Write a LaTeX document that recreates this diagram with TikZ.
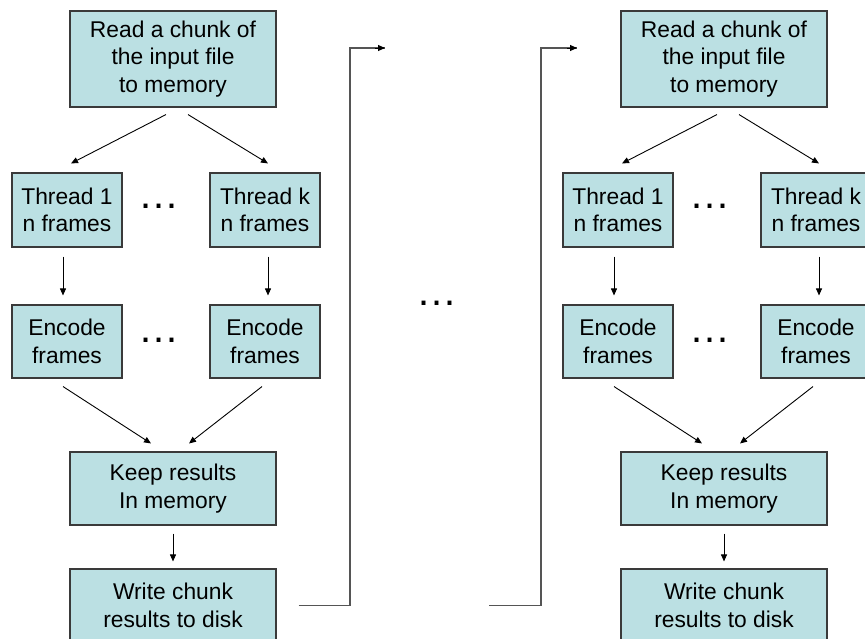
\documentclass[tikz,border=0pt]{standalone}
\usepackage{fontspec}
\setmainfont{Liberation Sans}
\usetikzlibrary{arrows.meta}
\definecolor{boxfill}{RGB}{187,224,227}
\definecolor{boxline}{RGB}{58,58,58}
\definecolor{loopline}{RGB}{85,85,85}
\tikzset{
  box/.style={draw=boxline, line width=1.1pt, fill=boxfill, inner sep=0pt, align=center,
    font=\fontsize{22.8}{27.5}\selectfont},
  bigbox/.style={box, minimum width=206pt},
  smallbox/.style={box, minimum width=110pt},
  arr/.style={draw=black, line width=0.9pt, -{Triangle[length=7pt,width=6pt]}},
  loop/.style={draw=loopline, line width=1.1pt},
  ell/.style={anchor=base, inner sep=0pt, font=\fontsize{41}{41}\selectfont}
}
\begin{document}
\begin{tikzpicture}[x=1pt,y=-1pt]
\useasboundingbox (0,0) rectangle (865,639);
\foreach \p/\dx in {A/0,B/551}{
\begin{scope}[xshift=\dx pt, name prefix=\p-]
  \node[bigbox, minimum height=96pt] (read) at (173,59) {Read a chunk of\\the input file\\to memory};
  \node[smallbox, minimum height=74pt] (t1) at (67,210) {Thread 1\\n frames};
  \node[smallbox, minimum height=74pt] (tk) at (265,210) {Thread k\\n frames};
  \node[ell] (d1) at (159,209) {…};
  \node[smallbox, minimum height=73pt] (e1) at (67,341.5) {Encode\\frames};
  \node[smallbox, minimum height=73pt] (ek) at (265,341.5) {Encode\\frames};
  \node[ell] (d2) at (159,342) {…};
  \node[bigbox, minimum height=73pt] (keep) at (173,488.5) {Keep results\\In memory};
  \node[bigbox, minimum height=73pt] (write) at (173,605.5) {Write chunk\\results to disk};
  \path[arr] ([xshift=-7pt,yshift=-7pt]read.south) -- ([xshift=4pt,yshift=9pt]t1.north);
  \path[arr] ([xshift=15pt,yshift=-7pt]read.south) -- ([xshift=3pt,yshift=9pt]tk.north);
  \path[arr] ([xshift=-4pt,yshift=-9pt]t1.south) -- ([xshift=-4pt,yshift=9pt]e1.north);
  \path[arr] ([xshift=3pt,yshift=-9pt]tk.south) -- ([xshift=3pt,yshift=9pt]ek.north);
  \path[arr] ([xshift=-4pt,yshift=-8pt]e1.south) -- ([xshift=-22pt,yshift=8pt]keep.north);
  \path[arr] ([xshift=-3pt,yshift=-8pt]ek.south) -- ([xshift=16pt,yshift=8pt]keep.north);
  \path[arr] ([yshift=-8pt]keep.south) -- ([yshift=7pt]write.north);
\end{scope}
}
\node[ell] (mid) at (436.5,305.7) {…};
\coordinate (l1s) at ([xshift=22pt]A-write.east);
\coordinate (l1e) at (385,48);
\draw[loop] (l1s) -- (350,605.5) -- (350,48) -- (l1e);
\path[arr] (375,48) -- (l1e);
\coordinate (l2s) at (489,605.5);
\coordinate (l2e) at (577,48);
\draw[loop] (l2s) -- (541,605.5) -- (541,48) -- (l2e);
\path[arr] (567,48) -- (l2e);
\end{tikzpicture}
\end{document}
